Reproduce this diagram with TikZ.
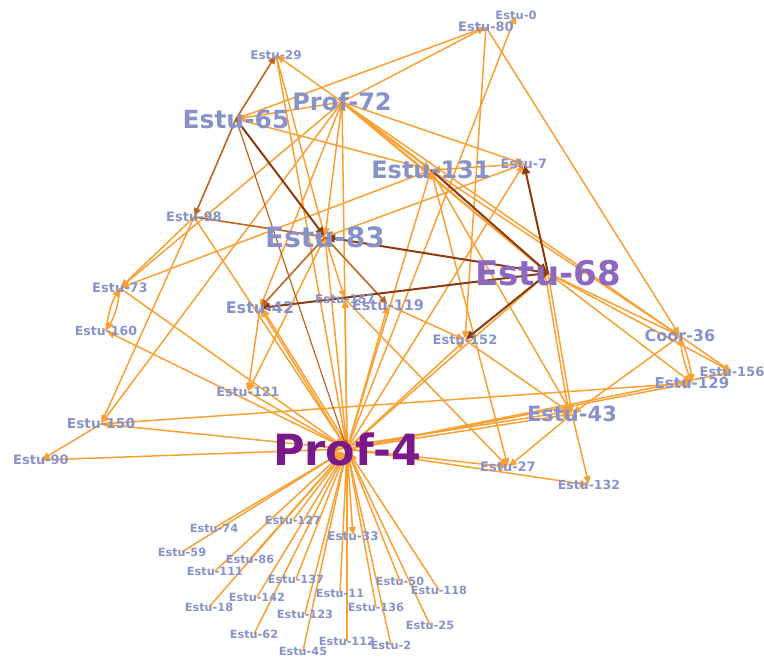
\documentclass[tikz,border=0pt]{standalone}
\usepackage{fontspec}
\setmainfont{DejaVu Sans}
\usetikzlibrary{arrows.meta,backgrounds}
\definecolor{eor}{RGB}{249,160,50}
\definecolor{ebr}{RGB}{192,100,30}
\definecolor{edk}{RGB}{140,58,16}
\definecolor{lab}{RGB}{136,146,200}
\definecolor{labp}{RGB}{140,104,192}
\definecolor{prof}{RGB}{122,26,138}
\begin{document}
\begin{tikzpicture}[x=1pt,y=-1pt,
  lb/.style={inner sep=0pt, text=lab, font=\bfseries\fontsize{#1}{#1}\selectfont},
  eo/.style={draw=eor, line width=1.5pt, -{Triangle[length=8pt,width=7pt]}, shorten >=1pt},
  et/.style={eo, line width=2.2pt},
  eb/.style={draw=ebr, line width=1.6pt, -{Triangle[length=8pt,width=7pt]}, shorten >=1pt},
  ed/.style={draw=edk, line width=2pt, -{Triangle[length=9pt,width=8pt]}, shorten >=1pt},
  ep/.style={eo, shorten >=5pt},
]
\useasboundingbox (0,0) rectangle (764,657);
% nodes
\node[lb=11.5] (n0) at (516,15) {Estu-0};
\node[lb=13] (n80) at (486,27) {Estu-80};
\node[lb=12] (n29) at (276,55) {Estu-29};
\node[lb=24] (n72) at (342,102) {Prof-72};
\node[lb=25] (n65) at (236,119) {Estu-65};
\node[lb=24] (n131) at (431,170) {Estu-131};
\node[lb=13] (n7) at (524,164) {Estu-7};
\node[lb=13] (n98) at (194,217) {Estu-98};
\node[lb=28] (n83) at (325,237) {Estu-83};
\node[lb=34,text=labp] (n68) at (548,273) {Estu-68};
\node[lb=13] (n73) at (120,288) {Estu-73};
\node[lb=12.5] (n160) at (106,331) {Estu-160};
\node[lb=16] (n42) at (260,308) {Estu-42};
\node[lb=12] (n157) at (345,299) {Estu-157};
\node[lb=14.5] (n119) at (388,305) {Estu-119};
\node[lb=13] (n152) at (465,340) {Estu-152};
\node[lb=16] (n36) at (680,336) {Coor-36};
\node[lb=13] (n156) at (732,372) {Estu-156};
\node[lb=15] (n129) at (692,383) {Estu-129};
\node[lb=21] (n43) at (572,414) {Estu-43};
\node[lb=12.7] (n121) at (248,392) {Estu-121};
\node[lb=13.7] (n150) at (101,424) {Estu-150};
\node[lb=13] (n90) at (41,460) {Estu-90};
\node[lb=43,text=prof] (p4) at (347,449) {Prof-4};
\node[lb=13] (n27) at (508,467) {Estu-27};
\node[lb=12.5] (n132) at (589,485) {Estu-132};
\node[lb=11.3] (b74) at (214,528) {Estu-74};
\node[lb=11.3] (b127) at (293,520) {Estu-127};
\node[lb=12] (b33) at (353,536) {Estu-33};
\node[lb=11.3] (b59) at (182,552) {Estu-59};
\node[lb=11.3] (b86) at (250,559) {Estu-86};
\node[lb=11.3] (b111) at (215,571) {Estu-111};
\node[lb=11.3] (b137) at (296,579) {Estu-137};
\node[lb=11.3] (b11) at (340,593) {Estu-11};
\node[lb=11.3] (b50) at (400,581) {Estu-50};
\node[lb=11.3] (b118) at (439,590) {Estu-118};
\node[lb=11.3] (b142) at (257,597) {Estu-142};
\node[lb=11.3] (b18) at (209,607) {Estu-18};
\node[lb=11.3] (b123) at (305,614) {Estu-123};
\node[lb=11.3] (b136) at (376,607) {Estu-136};
\node[lb=11.3] (b25) at (430,625) {Estu-25};
\node[lb=11.3] (b62) at (254,634) {Estu-62};
\node[lb=11.3] (b112) at (347,641) {Estu-112};
\node[lb=11.3] (b2) at (391,645) {Estu-2};
\node[lb=11.3] (b45) at (303,651) {Estu-45};
\begin{scope}[on background layer]
% orange edges
\draw[eo] (n72.center) -- (n65.center);
\draw[eo] (n72.center) -- (n29.center);
\draw[eo] (n72.center) -- (n80.center);
\draw[eo] (n65.center) -- (n80.center);
\draw[et] (n72.center) -- (n131.center);
\draw[et] (n72.center) -- (n68.center);
\draw[eo] (n72.center) -- (n36.center);
\draw[eo] (n72.center) -- (n7.center);
\draw[eo] (n72.center) -- (n83.center);
\draw[eo] (n72.center) -- (n73.center);
\draw[eo] (n72.center) -- (n150.center);
\draw[eo] (n72.center) -- (n42.center);
\draw[eo] (n65.center) -- (n131.center);
\draw[eo] (n29.center) -- (n83.center);
\draw[ep] (n29.center) -- (p4.center);
\draw[eo] (n98.center) -- (n73.center);
\draw[eo] (n98.center) -- (n150.center);
\draw[ep] (n98.center) -- (p4.center);
\draw[eo] (n73.center) to[bend left=12] (n160.center);
\draw[eo] (n160.center) to[bend left=12] (n73.center);
\draw[ep] (n73.center) -- (p4.center);
\draw[eo] (p4.center) -- (n160.center);
\draw[eo] (p4.center) -- (n150.center);
\draw[eo] (n150.center) -- (n90.center);
\draw[ep] (n90.center) -- (p4.center);
\draw[eo] (n150.center) -- (n129.center);
\draw[eo] (p4.center) -- (n129.center);
\draw[eo] (p4.center) -- (n156.center);
\draw[eo] (p4.center) -- (n43.center);
\draw[eo] ([yshift=3pt]p4.center) -- ([yshift=3pt]n43.center);
\draw[eo] (p4.center) -- (n27.center);
\draw[eo] (p4.center) -- (n132.center);
\draw[eo] (n43.center) -- (n27.center);
\draw[eo] (n43.center) -- (n132.center);
\draw[eo] (n68.center) -- (n43.center);
\draw[eo] ([xshift=-3pt]n68.center) -- ([xshift=-3pt]n43.center);
\draw[eo] (n131.center) -- (n43.center);
\draw[eo] (n119.center) -- (n152.center);
\draw[eo] (n152.center) -- (n43.center);
\draw[eo] (p4.center) -- (n152.center);
\draw[eo] (n68.center) -- (n129.center);
\draw[eo] (n68.center) -- (n36.center);
\draw[eo] (n68.center) -- (n156.center);
\draw[eo] (n36.center) -- (n43.center);
\draw[eo] (n36.center) to[bend left=8] (n129.center);
\draw[eo] (n129.center) to[bend left=8] (n36.center);
\draw[eo] (n36.center) -- (n156.center);
\draw[eo] (n80.center) -- (n36.center);
\draw[eo] (n83.center) -- (n157.center);
\draw[eo] (n83.center) -- (n121.center);
\draw[eo] (p4.center) -- (n42.center);
\draw[eo] ([xshift=3pt]p4.center) -- ([xshift=2pt]n42.center);
\draw[eo] (n42.center) -- (n121.center);
\draw[eo] (p4.center) -- (n83.center);
\draw[eo] (p4.center) -- (n157.center);
\draw[eo] (p4.center) -- (n119.center);
\draw[eo] (p4.center) -- (n131.center);
\draw[eo] (p4.center) -- (n7.center);
\draw[eo] (p4.center) -- (n0.center);
\draw[eo] (p4.center) -- (n68.center);
\draw[eo] (p4.center) -- (n72.center);
\draw[ep] (n121.center) -- (p4.center);
\draw[eo] (n80.center) -- (n152.center);
\draw[eo] (n7.center) -- (n131.center);
\draw[eo] (n7.center) -- (n83.center);
\draw[eo] (n131.center) -- (n73.center);
\draw[eo] (n157.center) -- (n27.center);
\draw[eo] (n131.center) -- (n27.center);
\draw[eo] (n131.center) -- (n36.center);
% bottom fan
\foreach \b in {b74,b127,b59,b86,b111,b137,b11,b50,b118,b142,b18,b123,b136,b25,b62,b112,b2,b45}
  \draw[ep] (\b.center) -- (p4.center);
\draw[eo] (p4.center) -- (b33.center);
% brown edges
\draw[eb] (n65.center) -- (n29.center);
\draw[eb] (n65.center) -- (n98.center);
\draw[ed] (n65.center) -- (n83.center);
\draw[eb, line width=1.2pt] (n65.center) -- (p4.center);
\draw[eb] (n83.center) -- (n119.center);
\draw[eb] (n83.center) -- (n42.center);
\draw[ed] (n68.center) -- (n83.center);
\draw[ed] (n68.center) -- (n42.center);
\draw[ed] (n68.center) -- (n152.center);
\draw[ed] (n68.center) -- (n7.center);
\draw[ed] (n131.center) -- (n68.center);
\draw[eb] (n98.center) -- (n83.center);
\end{scope}
\end{tikzpicture}
\end{document}
